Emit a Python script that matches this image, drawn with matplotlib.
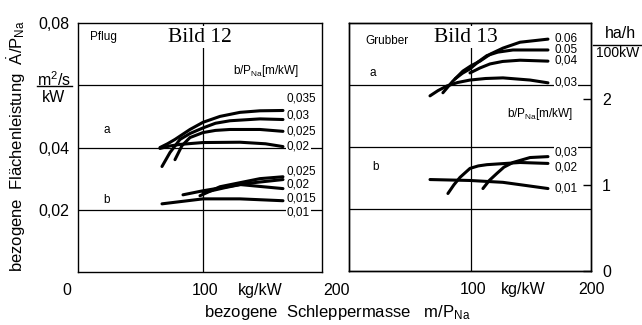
import matplotlib
matplotlib.use('Agg')
import matplotlib.pyplot as plt
from matplotlib.lines import Line2D

plt.rcParams['font.family'] = ['Liberation Sans', 'DejaVu Sans']
plt.rcParams['mathtext.fontset'] = 'custom'
plt.rcParams['mathtext.rm'] = 'Liberation Sans'
plt.rcParams['mathtext.it'] = 'Liberation Sans:italic'

# Bild 12, Pflug  (x: kg/kW, y: m2/s/kW)
pflug_a_labels = ['0,035', '0,03', '0,025', '0,02']
pflug_a_x = [[65.6, 71.6, 77.6, 83.6, 89.6, 100, 113.6, 129.6, 145.6, 164],
             [67.2, 73.6, 81.6, 89.6, 100, 110, 121.6, 145.6, 164],
             [77.6, 83.2, 89.6, 100, 110, 121.6, 145.6, 164],
             [65.6, 73.6, 81.6, 100, 129.6, 150, 164]]
pflug_a_y = [[0.0400, 0.0412, 0.0426, 0.0442, 0.0458, 0.0481, 0.0500, 0.0513, 0.0518, 0.0519],
             [0.0339, 0.0384, 0.0426, 0.0445, 0.0463, 0.0478, 0.0486, 0.0492, 0.0490],
             [0.0361, 0.0406, 0.0432, 0.0448, 0.0455, 0.0458, 0.0458, 0.0452],
             [0.0397, 0.0405, 0.0410, 0.0416, 0.0417, 0.0412, 0.0403]]
pflug_a_label_y = [0.0558, 0.0503, 0.0452, 0.0403]

pflug_b_labels = ['0,025', '0,02', '0,015', '0,01']
pflug_b_x = [[97.6, 113.6, 129.6, 145.6, 164],
             [100, 117.6, 133.6, 164],
             [84, 100, 129.6, 164],
             [67.2, 100, 129.6, 164]]
pflug_b_y = [[0.0245, 0.0274, 0.0287, 0.0300, 0.0306],
             [0.0255, 0.0271, 0.0284, 0.0297],
             [0.0248, 0.0261, 0.0281, 0.0268],
             [0.0219, 0.0235, 0.0235, 0.0229]]
pflug_b_label_y = [0.0323, 0.0281, 0.0235, 0.0190]

# Bild 13, Grubber
grubber_a_labels = ['0,06', '0,05', '0,04', '0,03']
grubber_a_x = [[77, 85, 93.4, 100, 107.4, 116, 126.2, 140.2, 163.1],
               [87, 93, 99.2, 106, 113.1, 122, 134.4, 163.1],
               [99.2, 107.4, 115.6, 126, 140.2, 163.1],
               [66.4, 73, 80.3, 89, 99.2, 112, 126.2, 148.4, 163.1]]
grubber_a_y = [[0.0575, 0.0612, 0.0645, 0.0662, 0.0677, 0.0700, 0.0719, 0.0738, 0.0748],
               [0.0620, 0.0638, 0.0652, 0.0675, 0.0695, 0.0706, 0.0713, 0.0713],
               [0.0639, 0.0655, 0.0668, 0.0676, 0.0680, 0.0677],
               [0.0565, 0.0582, 0.0597, 0.0608, 0.0616, 0.0621, 0.0623, 0.0616, 0.0607]]
grubber_a_label_y = [0.0751, 0.0716, 0.0680, 0.0607]

grubber_b_labels = ['0,03', '0,02', '0,01']
grubber_b_x = [[109.8, 115, 121.3, 127, 134.4, 148.4, 163.1],
               [81.1, 86, 91, 99.2, 106, 113.1, 140.2, 163.1],
               [66.4, 99.2, 126.2, 163.1]]
grubber_b_y = [[0.0266, 0.0292, 0.0315, 0.0335, 0.0350, 0.0366, 0.0369],
               [0.0250, 0.0278, 0.0302, 0.0331, 0.0339, 0.0343, 0.0350, 0.0347],
               [0.0295, 0.0292, 0.0286, 0.0266]]
grubber_b_label_y = [0.0382, 0.0334, 0.0266]

fig = plt.figure(figsize=(6.42, 3.25), dpi=100)
axl = fig.add_axes([0.1215, 0.1631, 0.380, 0.766])
axr = fig.add_axes([0.5436, 0.1662, 0.377, 0.763])


def grundgeruest(ax, xmax):
    ax.set_xlim(0, xmax)
    ax.set_ylim(0, 0.08)
    for yy in (0.02, 0.04, 0.06):
        ax.axhline(yy, color='k', lw=0.9, zorder=1)
    ax.axvline(100, color='k', lw=0.9, zorder=1)
    ax.set_xticks([])
    for s in ax.spines.values():
        s.set_linewidth(1.0)


def kurven(ax, xs, ys, labels, label_y, label_x):
    for x, y in zip(xs, ys):
        ax.plot(x, y, color='k', lw=2.2, solid_capstyle='round',
                solid_joinstyle='round', zorder=3)
    for lab, ly in zip(labels, label_y):
        ax.text(label_x, ly, lab, fontsize=8.5, ha='left', va='center', zorder=4,
                bbox=dict(fc='white', ec='none', pad=0.6))


grundgeruest(axl, 195.2)
grundgeruest(axr, 198.4)

kurven(axl, pflug_a_x, pflug_a_y, pflug_a_labels, pflug_a_label_y, 167)
kurven(axl, pflug_b_x, pflug_b_y, pflug_b_labels, pflug_b_label_y, 167)
kurven(axr, grubber_a_x, grubber_a_y, grubber_a_labels, grubber_a_label_y, 168.5)
kurven(axr, grubber_b_x, grubber_b_y, grubber_b_labels, grubber_b_label_y, 168.5)

# linke Achse
axl.set_yticks([0.02, 0.04, 0.08], ['0,02', '0,04', '0,08'], fontsize=11.5)
axl.tick_params(axis='y', length=0, pad=6)
axr.set_yticks([])

# Beschriftungen im Diagramm
axl.text(9.6, 0.0755, 'Pflug', fontsize=8.5, va='center')
axl.text(97.6, 0.0755, 'Bild 12', fontsize=15.5, family='Liberation Serif', ha='center',
         va='center', zorder=5, bbox=dict(fc='white', ec='none', pad=1.0))
axl.text(124, 0.0645, r'b/P$_{\rm Na}$[m/kW]', fontsize=8.5, va='center')
axl.text(20.8, 0.0455, 'a', fontsize=8.5, va='center')
axl.text(20, 0.0232, 'b', fontsize=8.5, va='center')

axr.text(13.1, 0.0742, 'Grubber', fontsize=8.5, va='center')
axr.text(96, 0.0754, 'Bild 13', fontsize=15.5, family='Liberation Serif', ha='center',
         va='center', zorder=5, bbox=dict(fc='white', ec='none', pad=1.0))
axr.text(129.5, 0.0507, r'b/P$_{\rm Na}$[m/kW]', fontsize=8.5, va='center')
axr.text(17.2, 0.0639, 'a', fontsize=8.5, va='center')
axr.text(18.9, 0.0337, 'b', fontsize=8.5, va='center')

# x-Beschriftung
for ax, pos, txt in ((axl, [-8.8, 101.6, 145.6, 207], ['0', '100', 'kg/kW', '200']),
                     (axr, [101.6, 142.6, 198.4], ['100', 'kg/kW', '200'])):
    for p, t in zip(pos, txt):
        ax.text(p, -0.006, t, fontsize=11.5, ha='center', va='center', clip_on=False)

# rechte Achse ha/h/100kW (1 m2/s/kW = 36 ha/h/100kW)
ax2 = axr.twinx()
ax2.set_ylim(0, 0.08 * 36)
ax2.set_yticks([0, 1, 2], ['0', '1', '2'], fontsize=11.5)
ax2.tick_params(axis='y', direction='in', length=6, width=1, pad=8)
for s in ax2.spines.values():
    s.set_linewidth(1.0)

# Einheiten
fig.text(0.0841, 0.754, r'm$^{2}$/s', fontsize=11.5, ha='center', va='center')
fig.text(0.0841, 0.7015, 'kW', fontsize=11.5, ha='center', va='center')
fig.add_artist(Line2D([0.0576, 0.112], [0.7354, 0.7354], color='k', lw=1.0))
fig.text(0.966, 0.898, 'ha/h', fontsize=11.5, ha='center', va='center')
fig.text(0.962, 0.837, '100kW', fontsize=10, ha='center', va='center')
fig.add_artist(Line2D([0.924, 0.999], [0.8615, 0.8615], color='k', lw=1.0))

fig.text(0.026, 0.55, r'bezogene  Flächenleistung  $\dot{\rm A}$/P$_{\rm Na}$',
         fontsize=12, rotation=90, ha='center', va='center')
fig.text(0.525, 0.037, r'bezogene  Schleppermasse   m/P$_{\rm Na}$',
         fontsize=12, ha='center', va='center')

fig.savefig('out.png', dpi=100)
